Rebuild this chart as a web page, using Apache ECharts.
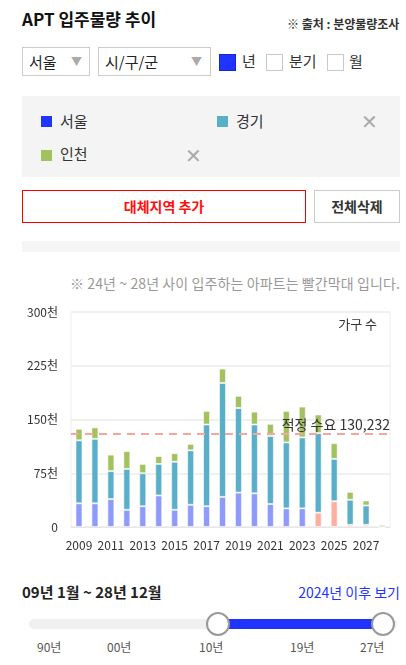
<!DOCTYPE html>
<html>
<head>
<meta charset="utf-8">
<script src="https://cdn.jsdelivr.net/npm/echarts@6/dist/echarts.min.js"></script>
<style>
  body { margin: 0; width: 406px; height: 665px; overflow: hidden; background: #fff;
         font-family: "Noto Sans CJK KR", "Noto Sans", sans-serif; color: #222; position: relative; }
  .abs { position: absolute; }
  .title { left: 22px; top: 6px; font-size: 17px; font-weight: bold; color: #111; }
  .src { left: 287px; top: 15px; font-size: 12px; font-weight: bold; color: #333; white-space: nowrap; }
  .sel { border: 1px solid #ccc; height: 29px; box-sizing: border-box; font-size: 15px; line-height: 27px; padding-left: 6px; }
  .arrow { position: absolute; top: 0; color: #aaa; font-size: 11px; }
  .chk { width: 17px; height: 17px; box-sizing: border-box; border: 1px solid #c8c8d0; background: #fff; }
  .chk.on { background: #2134ff; border: 1px solid #1426d0; }
  .lbl { font-size: 15px; color: #333; }
  .panel { left: 22px; top: 96px; width: 378px; height: 81px; background: #f4f4f4; }
  .sq { width: 11px; height: 11px; }
  .x { color: #aaa; font-size: 20px; font-weight: 300; }
  .btn { height: 33px; box-sizing: border-box; text-align: center; line-height: 31px; font-size: 14px; font-weight: bold; }
  .note { left: 70px; top: 273px; font-size: 14px; color: #999; white-space: nowrap; letter-spacing: 0.1px; }
  #chart { left: 0; top: 290px; width: 406px; height: 270px; }
  .range { left: 22px; top: 581px; font-size: 15px; font-weight: bold; color: #222; }
  .after { right: 6px; top: 582px; font-size: 14px; color: #2134ff; }
  .track { left: 29px; top: 619px; width: 368px; height: 10px; border-radius: 5px; background: #f0f0f2; }
  .fill { left: 218px; top: 619px; width: 165px; height: 10px; background: #2134ff; }
  .knob { width: 24px; height: 24px; box-sizing: border-box; border: 2px solid #999; border-radius: 50%; background: #fff; }
  .tick { top: 638px; font-size: 12px; color: #555; }
</style>
</head>
<body>
<div class="abs title">APT 입주물량 추이</div>
<div class="abs src">※ 출처 : 분양물량조사</div>

<div class="abs sel" style="left:22px;top:47px;width:68px;">서울<span class="arrow" style="left:48px;">▼</span></div>
<div class="abs sel" style="left:98px;top:47px;width:113px;">시/구/군<span class="arrow" style="left:92px;">▼</span></div>
<div class="abs chk on" style="left:219px;top:54px;"></div>
<div class="abs lbl" style="left:242px;top:50px;">년</div>
<div class="abs chk" style="left:266px;top:54px;"></div>
<div class="abs lbl" style="left:289px;top:50px;">분기</div>
<div class="abs chk" style="left:327px;top:54px;"></div>
<div class="abs lbl" style="left:349px;top:50px;">월</div>

<div class="abs panel"></div>
<div class="abs sq" style="left:41px;top:116px;background:#2134ff;"></div>
<div class="abs lbl" style="left:60px;top:110px;">서울</div>
<div class="abs sq" style="left:217px;top:116px;background:#58afc8;"></div>
<div class="abs lbl" style="left:236px;top:110px;">경기</div>
<div class="abs x" style="left:361px;top:106px;">✕</div>
<div class="abs sq" style="left:41px;top:150px;background:#a2c25d;"></div>
<div class="abs lbl" style="left:60px;top:143px;">인천</div>
<div class="abs x" style="left:185px;top:140px;">✕</div>

<div class="abs btn" style="left:22px;top:190px;width:284px;border:1px solid #ff0000;color:#ff1010;">대체지역 추가</div>
<div class="abs btn" style="left:314px;top:190px;width:86px;border:1px solid #ccc;color:#333;">전체삭제</div>
<div class="abs" style="left:22px;top:241px;width:378px;height:11px;background:#f5f5f5;"></div>

<div class="abs note">※ 24년 ~ 28년 사이 입주하는 아파트는 빨간막대 입니다.</div>
<div id="chart" class="abs"></div>

<div class="abs range">09년 1월 ~ 28년 12월</div>
<div class="abs after">2024년 이후 보기</div>
<div class="abs track"></div>
<div class="abs fill"></div>
<div class="abs knob" style="left:206px;top:612px;"></div>
<div class="abs knob" style="left:371px;top:612px;"></div>
<div class="abs tick" style="left:37px;">90년</div>
<div class="abs tick" style="left:107px;">00년</div>
<div class="abs tick" style="left:199px;">10년</div>
<div class="abs tick" style="left:290px;">19년</div>
<div class="abs tick" style="left:360px;">27년</div>

<script>
// 단위: 천 가구
const years = ['2009','2010','2011','2012','2013','2014','2015','2016','2017','2018',
               '2019','2020','2021','2022','2023','2024','2025','2026','2027','2028'];
const seoul   = [33, 33, 39, 24, 29, 44, 24, 31, 29, 42, 48, 47, 32, 26, 26, 20, 36, 3, 3, 0];
const gyeonggi = [88, 90, 39, 57, 46, 44, 67, 76, 114, 159, 118, 96, 95, 92, 99, 111, 59, 35, 27, 0];
const incheon = [16, 16, 23, 25, 13, 11, 12, 9, 19, 20, 17, 18, 17, 44, 43, 26, 22, 11, 7, 3];
const futureFrom = '2024';
const demand = 130.232;

const chart = echarts.init(document.getElementById('chart'));
const futureIdx = years.indexOf(futureFrom);
const border = { borderColor: 'rgba(255,255,255,0.55)', borderWidth: 1 };

chart.setOption({
  animation: false,
  textStyle: { fontFamily: 'Noto Sans CJK KR' },
  grid: { left: 71, right: 16, top: 22, bottom: 33, show: true, borderColor: '#eeeeee', borderWidth: 1 },
  graphic: [{ type: 'text', right: 29, top: 28, style: { text: '가구 수', fontSize: 13, fill: '#333', fontFamily: 'Noto Sans CJK KR' } }],
  xAxis: {
    type: 'category',
    data: years,
    axisTick: { show: false },
    axisLine: { lineStyle: { color: '#e6e6e6' } },
    axisLabel: { interval: 1, color: '#333', fontSize: 12, margin: 12 }
  },
  yAxis: {
    type: 'value',
    min: 0, max: 300, interval: 75,
    splitLine: { lineStyle: { color: '#f0f0f0', width: 2 } },
    axisLabel: { color: '#333', fontSize: 12, margin: 13, formatter: v => v === 0 ? '0' : v + '천' }
  },
  series: [
    {
      name: '서울', type: 'bar', stack: 'total', barWidth: 7,
      data: seoul.map((v, i) => ({
        value: v,
        itemStyle: { color: i >= futureIdx ? '#ffaf9f' : '#8f9bfb', ...border }
      })),
      markLine: {
        symbol: 'none', silent: true,
        lineStyle: { color: '#f7a59f', type: [8, 6], width: 2 },
        label: { position: 'insideEndTop', formatter: '적정 수요 130,232', color: '#333', fontSize: 14, distance: [0, 2] },
        data: [{ yAxis: demand }]
      }
    },
    { name: '경기', type: 'bar', stack: 'total', barWidth: 7, data: gyeonggi, itemStyle: { color: '#59afc9', ...border } },
    { name: '인천', type: 'bar', stack: 'total', barWidth: 7, data: incheon, itemStyle: { color: '#a3c25e', ...border } }
  ]
});
</script>
</body>
</html>
